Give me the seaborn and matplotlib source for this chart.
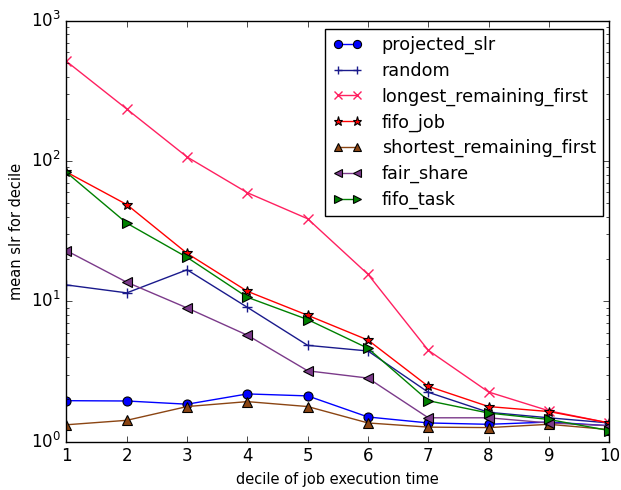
import matplotlib
matplotlib.use("Agg")
import matplotlib.pyplot as plt
import seaborn as sns
import numpy as np

deciles = [1, 2, 3, 4, 5, 6, 7, 8, 9, 10]

projected_slr = [1.96, 1.95, 1.85, 2.19, 2.12, 1.50, 1.36, 1.33, 1.38, 1.30]
random_policy = [13.1, 11.5, 16.8, 9.07, 4.86, 4.43, 2.25, 1.62, 1.48, 1.36]
longest_remaining_first = [514, 235, 107, 59.5, 38.8, 15.6, 4.48, 2.26, 1.66, 1.36]
fifo_job = [83.5, 49.0, 22.0, 11.8, 7.96, 5.30, 2.48, 1.78, 1.64, 1.36]
shortest_remaining_first = [1.32, 1.42, 1.78, 1.93, 1.78, 1.36, 1.27, 1.26, 1.33, 1.22]
fair_share = [23.0, 13.7, 8.98, 5.74, 3.20, 2.84, 1.48, 1.48, 1.36, 1.30]
fifo_task = [83.0, 36.1, 20.6, 10.7, 7.42, 4.63, 1.96, 1.60, 1.44, 1.20]

# name, values, marker, colour, marker edge (None = same as line), marker size
series = [
    ("projected_slr", projected_slr, "o", "#0000ff", "k", 6.5),
    ("random", random_policy, "+", "#1a1a8c", None, 7),
    ("longest_remaining_first", longest_remaining_first, "x", "#ff2060", None, 7),
    ("fifo_job", fifo_job, "*", "#ff0000", "k", 7.5),
    ("shortest_remaining_first", shortest_remaining_first, "^", "#8b4513", "k", 6.5),
    ("fair_share", fair_share, "<", "#7b3a8a", "k", 6.5),
    ("fifo_task", fifo_task, ">", "#008000", "k", 6.5),
]

plt.style.use("classic")
fig = plt.figure(figsize=(6.21, 4.90), dpi=100, facecolor="white")
ax = fig.add_axes([0.107, 0.0986, 0.874, 0.859])

for name, vals, mk, col, edge, ms in series:
    kw = dict(marker=mk, color=col, linewidth=1.0, markersize=ms)
    if edge is None:
        kw["markeredgecolor"] = col
        kw["markeredgewidth"] = 1.0
    else:
        kw["markerfacecolor"] = col
        kw["markeredgecolor"] = edge
        kw["markeredgewidth"] = 0.8
    sns.lineplot(x=deciles, y=vals, ax=ax, label=name, **kw)

ax.set_yscale("log")
ax.set_xlim(1, 10)
ax.set_ylim(1, 1000)
ax.set_xticks(deciles)
ax.tick_params(axis="both", which="major", labelsize=12, direction="in")
ax.tick_params(axis="both", which="minor", direction="in")
ax.set_xlabel("decile of job execution time", fontsize=10.5)
ax.set_ylabel("mean slr for decile", fontsize=10.5)
ax.legend(loc="upper right", bbox_to_anchor=(603 / 621, 1 - 29 / 490),
          bbox_transform=fig.transFigure, borderaxespad=0,
          numpoints=2, fontsize=12.7, frameon=True, fancybox=False,
          labelspacing=0.43, handlelength=1.7, handletextpad=1.1,
          markerscale=0.9)

fig.savefig("out.png", dpi=100, facecolor="white")
